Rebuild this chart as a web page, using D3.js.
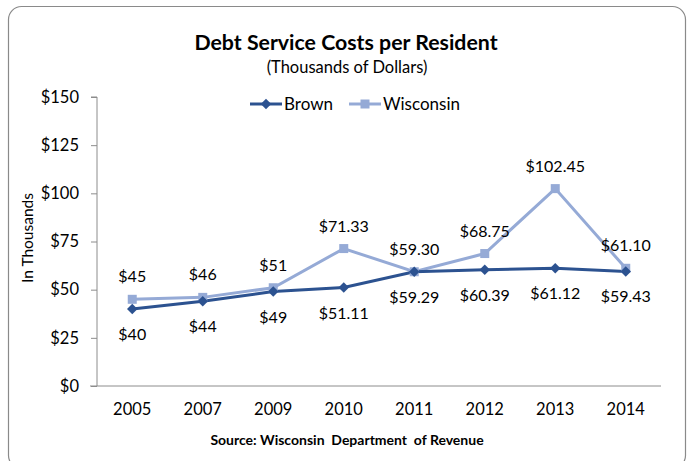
<!DOCTYPE html>
<html>
<head>
<meta charset="utf-8">
<script src="https://cdn.jsdelivr.net/npm/d3@7/dist/d3.min.js"></script>
<style>
  html, body { margin: 0; padding: 0; background: #fff; }
  svg { display: block; font-family: Lato, "Open Sans", sans-serif; }
  svg text { font-family: Lato, "Open Sans", sans-serif; }
</style>
</head>
<body>
<svg id="chart" width="689" height="461"></svg>
<script>
// Debt service costs per resident, thousands of dollars
const years = ["2005", "2007", "2009", "2010", "2011", "2012", "2013", "2014"];
const brown = [40, 44, 49, 51.11, 59.29, 60.39, 61.12, 59.43];
const wisconsin = [45, 46, 51, 71.33, 59.30, 68.75, 102.45, 61.10];
const brownLabels = ["$40", "$44", "$49", "$51.11", "$59.29", "$60.39", "$61.12", "$59.43"];
const wisconsinLabels = ["$45", "$46", "$51", "$71.33", "$59.30", "$68.75", "$102.45", "$61.10"];
const yTicks = [0, 25, 50, 75, 100, 125, 150];

const brownColor = "#2C5290";
const wiscColor = "#95AAD6";
const axisColor = "#8C8C8C";
const font = "Lato, 'Open Sans', sans-serif";

const svg = d3.select("#chart");

// outer frame
svg.append("rect")
  .attr("x", 8.5).attr("y", 6.5)
  .attr("width", 677).attr("height", 462)
  .attr("rx", 13).attr("ry", 13)
  .attr("fill", "#fff").attr("stroke", "#8a8a8a").attr("stroke-width", 1.2);

const plot = { left: 97, right: 661, top: 97, bottom: 386 };

const x = d3.scaleBand().domain(years).range([plot.left, plot.right]);
const y = d3.scaleLinear().domain([0, 150]).range([plot.bottom, plot.top]);
const cx = d => x(d) + x.bandwidth() / 2;

// y axis
const yAxis = d3.axisLeft(y).tickValues(yTicks).tickSize(6).tickPadding(12)
  .tickFormat(d => "$" + d);
const gy = svg.append("g").attr("transform", `translate(${plot.left},0)`).call(yAxis)
  .attr("font-family", font).attr("font-size", 16.5);
gy.select(".domain").attr("stroke", axisColor).attr("d", `M-6,${plot.top}H0V${plot.bottom}`);
gy.selectAll(".tick line").attr("stroke", axisColor);
gy.selectAll(".tick text").attr("fill", "#000");

// x axis
const xAxis = d3.axisBottom(x).tickSize(0).tickPadding(17);
const gx = svg.append("g").attr("transform", `translate(0,${plot.bottom})`).call(xAxis)
  .attr("font-family", font).attr("font-size", 16.5);
gx.select(".domain").attr("stroke", axisColor).attr("d", `M${plot.left - 7},0H${plot.right}`);
gx.selectAll(".tick text").attr("fill", "#000");

// lines
const line = d3.line().x((d, i) => cx(years[i])).y(d => y(d));
svg.append("path").datum(wisconsin).attr("d", line)
  .attr("fill", "none").attr("stroke", wiscColor).attr("stroke-width", 3);
svg.append("path").datum(brown).attr("d", line)
  .attr("fill", "none").attr("stroke", brownColor).attr("stroke-width", 3);

// markers
svg.append("g").selectAll("rect").data(wisconsin).join("rect")
  .attr("x", (d, i) => cx(years[i]) - 4.5).attr("y", d => y(d) - 4.5)
  .attr("width", 9).attr("height", 9).attr("fill", wiscColor);
const diamond = d3.symbol().type(d3.symbolDiamond2).size(70);
svg.append("g").selectAll("path").data(brown).join("path")
  .attr("d", diamond)
  .attr("transform", (d, i) => `translate(${cx(years[i])},${y(d)})`)
  .attr("fill", brownColor);

// value labels: Wisconsin above its points, Brown below
svg.append("g").selectAll("text").data(wisconsin).join("text")
  .attr("x", (d, i) => cx(years[i])).attr("y", d => y(d) - 17)
  .attr("text-anchor", "middle").style("font-size", "16px").attr("fill", "#000")
  .text((d, i) => wisconsinLabels[i]);
svg.append("g").selectAll("text").data(brown).join("text")
  .attr("x", (d, i) => cx(years[i])).attr("y", d => y(d) + 31)
  .attr("text-anchor", "middle").style("font-size", "16px").attr("fill", "#000")
  .text((d, i) => brownLabels[i]);

// titles
svg.append("text").attr("x", 346).attr("y", 50).attr("text-anchor", "middle")
  .style("font-size", "21.3px").style("font-weight", "bold").text("Debt Service Costs per Resident");
svg.append("text").attr("x", 347).attr("y", 73).attr("text-anchor", "middle")
  .style("font-size", "16.5px").text("(Thousands of Dollars)");
svg.append("text").attr("transform", "translate(33,238) rotate(-90)").attr("text-anchor", "middle")
  .style("font-size", "15.5px").text("In Thousands");
svg.append("text").attr("x", 347).attr("y", 445).attr("text-anchor", "middle")
  .style("font-size", "14px").style("font-weight", "bold").style("white-space", "pre")
  .text("Source: Wisconsin  Department  of Revenue");

// legend
const leg = svg.append("g");
leg.append("line").attr("x1", 250).attr("x2", 282).attr("y1", 104).attr("y2", 104)
  .attr("stroke", brownColor).attr("stroke-width", 3);
leg.append("path").attr("d", diamond).attr("transform", "translate(266,104)").attr("fill", brownColor);
leg.append("text").attr("x", 284).attr("y", 110).style("font-size", "17px").text("Brown");
leg.append("line").attr("x1", 349).attr("x2", 381).attr("y1", 104).attr("y2", 104)
  .attr("stroke", wiscColor).attr("stroke-width", 3);
leg.append("rect").attr("x", 360.5).attr("y", 99.5).attr("width", 9).attr("height", 9).attr("fill", wiscColor);
leg.append("text").attr("x", 383).attr("y", 110).style("font-size", "17px").text("Wisconsin");
</script>
</body>
</html>
